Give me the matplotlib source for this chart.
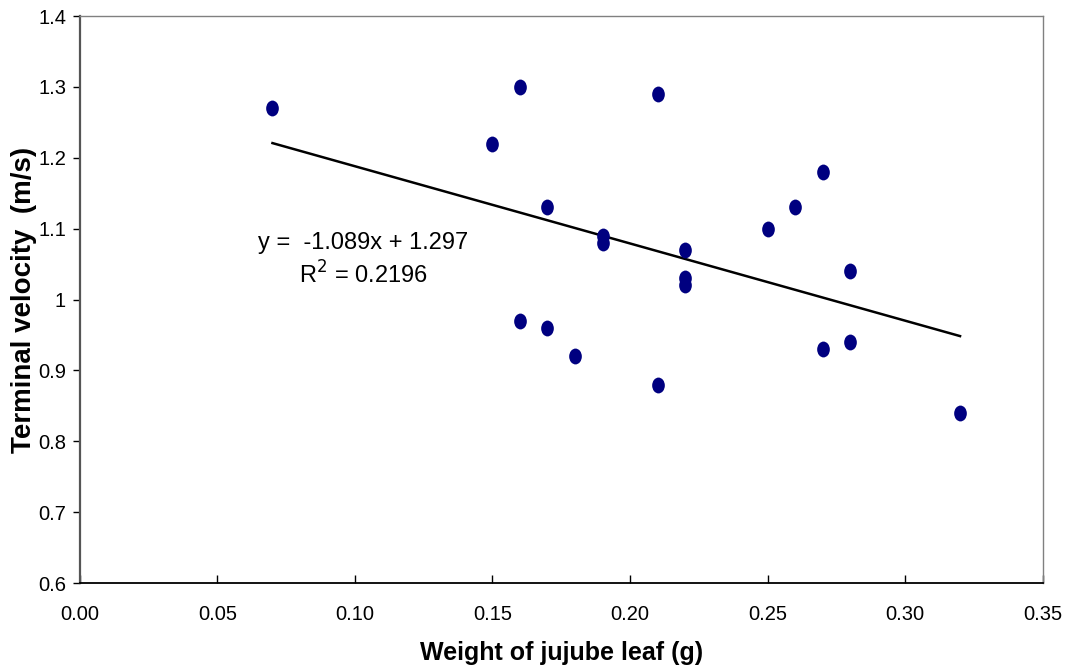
import numpy as np
import matplotlib.pyplot as plt
from matplotlib.markers import MarkerStyle
from matplotlib.transforms import Affine2D

plt.rcParams['font.family'] = ['Liberation Sans', 'DejaVu Sans']

# weight of jujube leaf (g) and terminal velocity (m/s)
weight = [0.07, 0.15, 0.16, 0.16, 0.17, 0.17, 0.18, 0.19, 0.19, 0.21, 0.21,
          0.22, 0.22, 0.22, 0.25, 0.26, 0.27, 0.27, 0.28, 0.28, 0.32]
velocity = [1.27, 1.22, 1.30, 0.97, 1.13, 0.96, 0.92, 1.09, 1.08, 1.29, 0.88,
            1.07, 1.03, 1.02, 1.10, 1.13, 1.18, 0.93, 1.04, 0.94, 0.84]

slope = -1.089
intercept = 1.297
r2 = 0.2196

fig = plt.figure(figsize=(10.66, 6.68), dpi=100)
ax = fig.add_axes([0.075, 0.127, 0.903, 0.849])

oval = MarkerStyle('o', transform=Affine2D().scale(0.8, 1.0))
ax.scatter(weight, velocity, marker=oval, s=130, color='#000080', zorder=3, linewidths=0)

xfit = np.array([min(weight), max(weight)])
ax.plot(xfit, slope * xfit + intercept, color='k', lw=1.8, zorder=2)

ax.text(0.1029, 1.080, 'y =  -1.089x + 1.297', ha='center', va='center', fontsize=17)
ax.text(0.1029, 1.0346, 'R$^2$ = 0.2196', ha='center', va='center', fontsize=17)

ax.set_xlim(0, 0.35)
ax.set_ylim(0.6, 1.4)
ax.set_xticks(np.arange(0, 0.351, 0.05))
ax.set_yticks(np.arange(0.6, 1.401, 0.1))
ax.set_xticklabels(['%.2f' % v for v in np.arange(0, 0.351, 0.05)])
ax.set_yticklabels(['0.6', '0.7', '0.8', '0.9', '1', '1.1', '1.2', '1.3', '1.4'])

ax.tick_params(axis='x', direction='in', length=6, width=1, labelsize=14.5, pad=16, colors='k')
ax.tick_params(axis='y', direction='out', length=5, width=1, labelsize=14.5, pad=5)

for side in ['top', 'right']:
    ax.spines[side].set_color('#808080')
    ax.spines[side].set_linewidth(1)
ax.spines['left'].set_color('#555555')
ax.spines['left'].set_linewidth(1.6)
ax.spines['bottom'].set_color('k')
ax.spines['bottom'].set_linewidth(1.3)

ax.set_xlabel('Weight of jujube leaf (g)', fontsize=18, fontweight='bold', labelpad=12)
ax.set_ylabel('Terminal velocity  (m/s)', fontsize=20, fontweight='bold', labelpad=1)

plt.savefig('out.png', dpi=100)
